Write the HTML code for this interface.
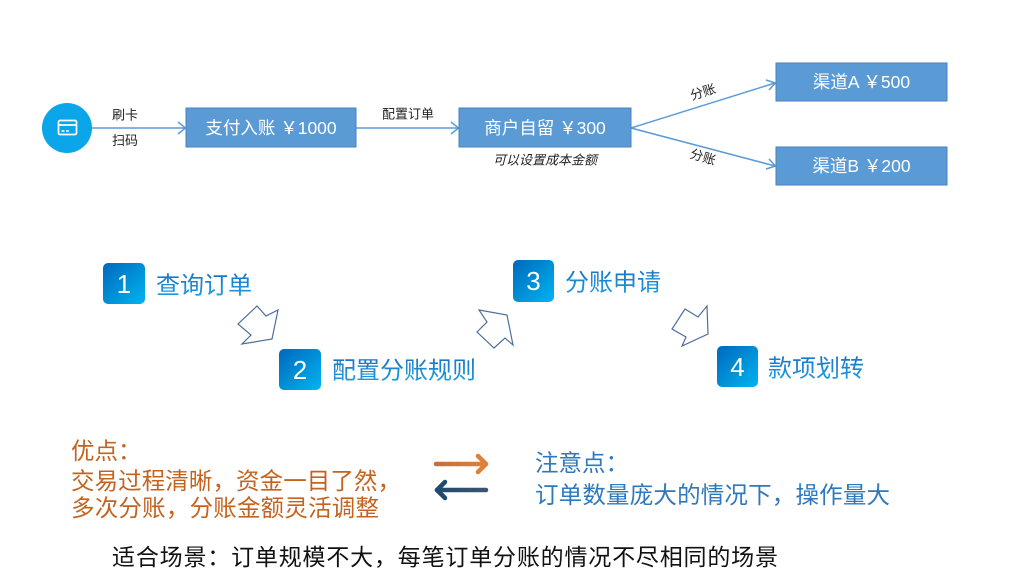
<!DOCTYPE html>
<html>
<head>
<meta charset="utf-8">
<style>
  html,body{margin:0;padding:0;background:#fff;}
  body{width:1024px;height:588px;overflow:hidden;position:relative;}
  svg{position:absolute;left:0;top:0;}
  text{font-family:"Liberation Sans","Noto Sans CJK SC","WenQuanYi Zen Hei",sans-serif;}
</style>
</head>
<body>
<svg width="1024" height="588" viewBox="0 0 1024 588" xmlns="http://www.w3.org/2000/svg">
  <defs>
    <linearGradient id="badge" x1="0" y1="0" x2="1" y2="1">
      <stop offset="0" stop-color="#0068bd"/>
      <stop offset="1" stop-color="#00b4f0"/>
    </linearGradient>
    <linearGradient id="stepText" x1="0" y1="0" x2="0" y2="1">
      <stop offset="0" stop-color="#1a74c2"/>
      <stop offset="1" stop-color="#1fa0e6"/>
    </linearGradient>
    <linearGradient id="orangeArrow" gradientUnits="userSpaceOnUse" x1="434" y1="464" x2="488" y2="464">
      <stop offset="0" stop-color="#c0703a"/>
      <stop offset="1" stop-color="#e0823a"/>
    </linearGradient>
    <linearGradient id="blueArrow" gradientUnits="userSpaceOnUse" x1="434" y1="490" x2="488" y2="490">
      <stop offset="0" stop-color="#1f4a72"/>
      <stop offset="1" stop-color="#3c5570"/>
    </linearGradient>
  </defs>

  <!-- card circle -->
  <circle cx="67" cy="128" r="25" fill="#0aa6e9"/>
  <rect x="58.5" y="120.5" width="18" height="14" rx="1.5" fill="none" stroke="#fff" stroke-width="1.7"/>
  <line x1="58.5" y1="125" x2="76.5" y2="125" stroke="#fff" stroke-width="1.7"/>
  <line x1="61.5" y1="131" x2="64.5" y2="131" stroke="#fff" stroke-width="1.5"/>
  <line x1="66" y1="131" x2="69" y2="131" stroke="#fff" stroke-width="1.5"/>

  <!-- connectors -->
  <g stroke="#5b9bd5" stroke-width="1.5" fill="none">
    <line x1="92" y1="128" x2="185" y2="128"/>
    <polyline points="178,122 185.5,128 178,134"/>
    <line x1="356" y1="128" x2="458" y2="128"/>
    <polyline points="451,122 458.5,128 451,134"/>
    <line x1="631" y1="128" x2="775" y2="83"/>
    <polyline points="766,80 775.5,83 769,90"/>
    <line x1="631" y1="128" x2="775" y2="166"/>
    <polyline points="769,159 775.5,166 766,169"/>
  </g>

  <!-- boxes -->
  <g fill="#5b9bd5" stroke="#4a82bb" stroke-width="1">
    <rect x="186" y="108" width="170" height="39"/>
    <rect x="459" y="108" width="172" height="39"/>
    <rect x="776" y="63" width="171" height="38"/>
    <rect x="776" y="147" width="171" height="38"/>
  </g>
  <g fill="#fff" font-size="17.5" text-anchor="middle">
    <text x="271" y="134">支付入账 ￥1000</text>
    <text x="545" y="134">商户自留 ￥300</text>
    <text x="861.5" y="88">渠道A ￥500</text>
    <text x="861.5" y="172">渠道B ￥200</text>
  </g>

  <!-- small labels -->
  <g fill="#222" font-size="13">
    <text x="112" y="119.5">刷卡</text>
    <text x="112" y="145">扫码</text>
    <text x="382" y="118.5">配置订单</text>
    <text x="493" y="164.5" font-style="italic">可以设置成本金额</text>
    <text x="703" y="96.5" text-anchor="middle" transform="rotate(-17 703 92)">分账</text>
    <text x="703" y="161.5" text-anchor="middle" transform="rotate(17 703 157)">分账</text>
  </g>

  <!-- step badges -->
  <rect x="103" y="263" width="42" height="41" rx="5" fill="url(#badge)"/>
  <text x="124" y="293" font-size="26" fill="#fff" text-anchor="middle">1</text>
  <text x="156" y="293.5" font-size="24" fill="url(#stepText)">查询订单</text>

  <rect x="279" y="349" width="42" height="41" rx="5" fill="url(#badge)"/>
  <text x="300" y="379" font-size="26" fill="#fff" text-anchor="middle">2</text>
  <text x="332" y="378.5" font-size="24" fill="url(#stepText)">配置分账规则</text>

  <rect x="513" y="260" width="41" height="42" rx="5" fill="url(#badge)"/>
  <text x="533.5" y="290" font-size="26" fill="#fff" text-anchor="middle">3</text>
  <text x="565" y="290.5" font-size="24" fill="url(#stepText)">分账申请</text>

  <rect x="717" y="346" width="41" height="41" rx="5" fill="url(#badge)"/>
  <text x="737.5" y="376" font-size="26" fill="#fff" text-anchor="middle">4</text>
  <text x="768" y="376.5" font-size="24" fill="url(#stepText)">款项划转</text>

  <!-- block arrows (outline) -->
  <g fill="#fff" stroke="#4d6f9c" stroke-width="1.2" stroke-linejoin="miter">
    <polygon points="257,306 266,316 278,310 272,339 242,344 251,335 238,324"/>
    <polygon points="479,310 507,315 513,345 505,338 494,348 477,332 487,322"/>
    <polygon points="685,309 698,317 707,306 708,334 682,346 686,337 672,329"/>
  </g>

  <!-- pros -->
  <g fill="#c4631f" font-size="23.5">
    <text x="71" y="459">优点：</text>
    <text x="71" y="489" textLength="330" lengthAdjust="spacing">交易过程清晰，资金一目了然，</text>
    <text x="71" y="516" textLength="308" lengthAdjust="spacing">多次分账，分账金额灵活调整</text>
  </g>

  <!-- double arrow icon -->
  <g fill="none" stroke-width="4.5" stroke-linecap="round" stroke-linejoin="round">
    <line x1="436" y1="464" x2="485" y2="464" stroke="url(#orangeArrow)"/>
    <polyline points="478,456 486,464 478,472" stroke="#de8038"/>
    <line x1="437" y1="490" x2="486" y2="490" stroke="url(#blueArrow)"/>
    <polyline points="445,482 437,490 445,498" stroke="#1f4a72"/>
  </g>

  <!-- cons -->
  <g fill="#2e78bd" font-size="23.5">
    <text x="535" y="471">注意点：</text>
    <text x="535" y="503" textLength="355" lengthAdjust="spacing">订单数量庞大的情况下，操作量大</text>
  </g>

  <!-- scenario -->
  <text x="112" y="565" font-size="23" fill="#111" textLength="666" lengthAdjust="spacing">适合场景：订单规模不大，每笔订单分账的情况不尽相同的场景</text>
</svg>
</body>
</html>
